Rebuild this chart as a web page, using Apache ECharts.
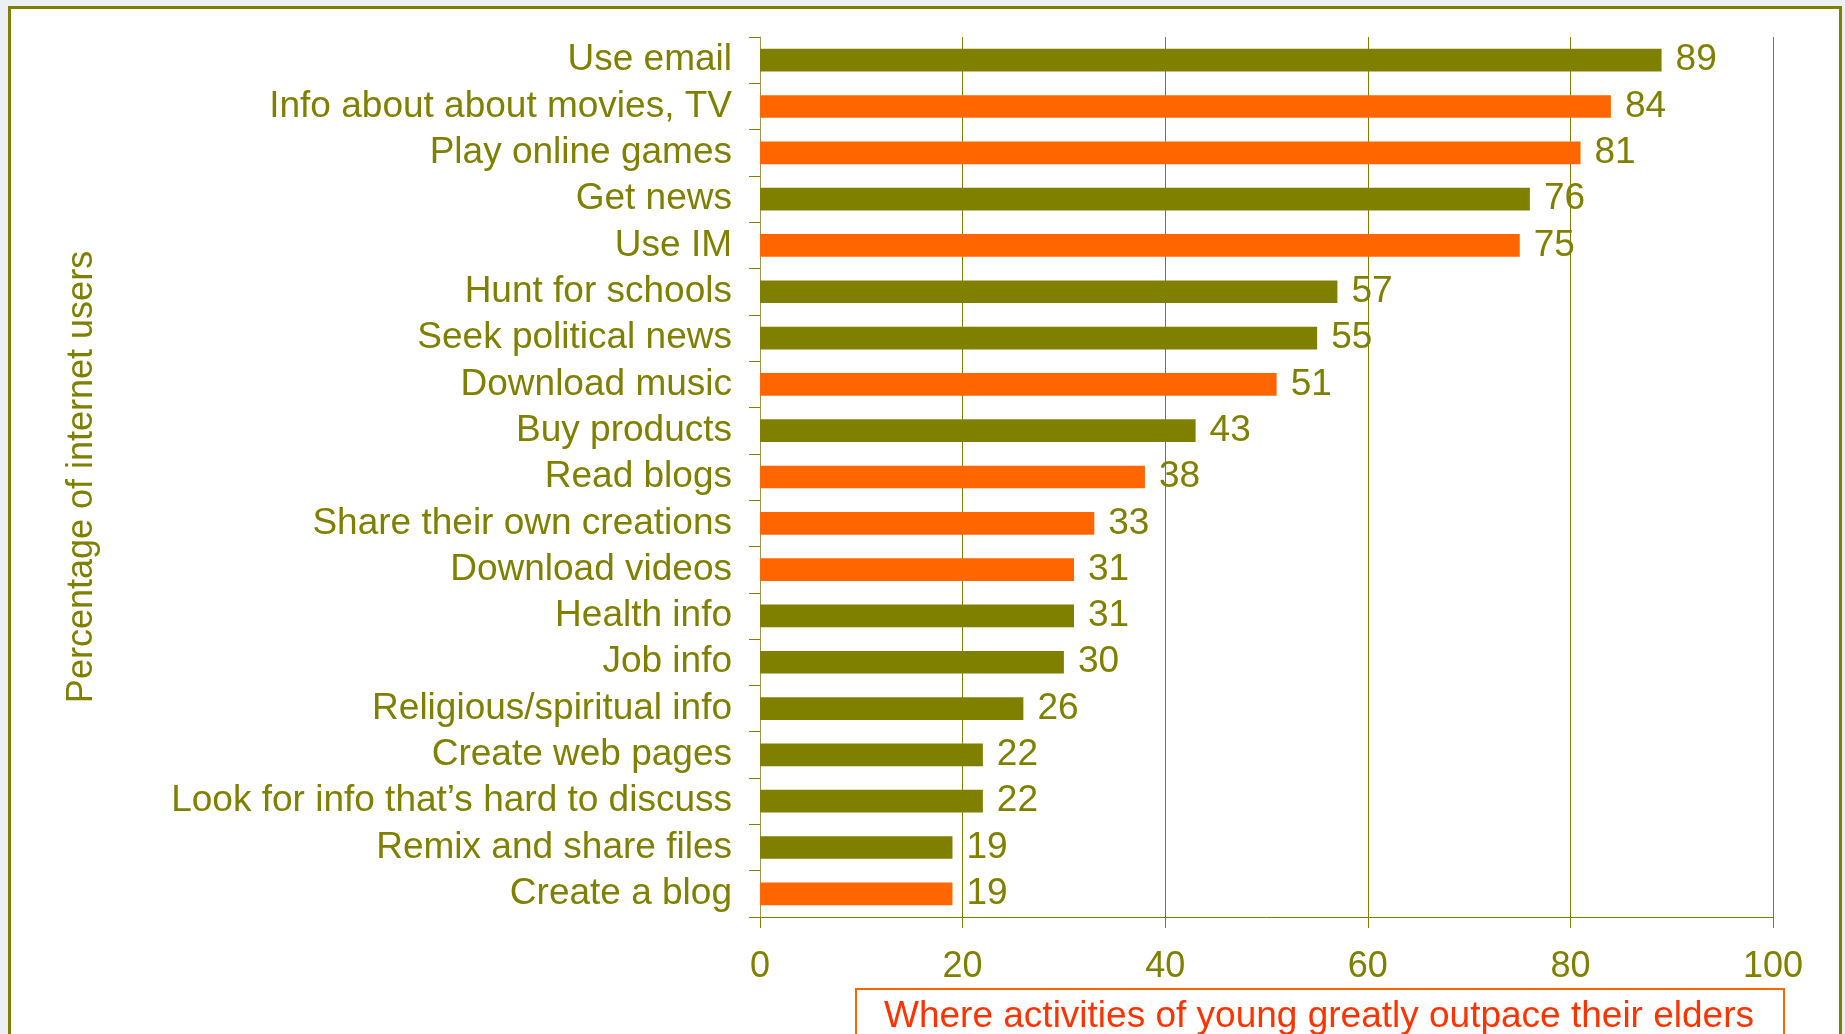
<!DOCTYPE html>
<html>
<head>
<meta charset="utf-8">
<script src="https://cdn.jsdelivr.net/npm/echarts@6/dist/echarts.min.js"></script>
<style>
  html, body { margin: 0; padding: 0; width: 1845px; height: 1034px; overflow: hidden; background: #eceff4; }
  #frame { position: absolute; left: 8px; top: 6px; width: 1828px; height: 1060px; background: #ffffff; border: 3px solid #808000; }
  #chart { position: absolute; left: 0; top: 0; width: 1845px; height: 1034px; }
</style>
</head>
<body>
<div id="frame"></div>
<div id="chart"></div>
<script>
const categories = [
  'Use email',
  'Info about about movies, TV',
  'Play online games',
  'Get news',
  'Use IM',
  'Hunt for schools',
  'Seek political news',
  'Download music',
  'Buy products',
  'Read blogs',
  'Share their own creations',
  'Download videos',
  'Health info',
  'Job info',
  'Religious/spiritual info',
  'Create web pages',
  'Look for info that\u2019s hard to discuss',
  'Remix and share files',
  'Create a blog'
];
const values = [89, 84, 81, 76, 75, 57, 55, 51, 43, 38, 33, 31, 31, 30, 26, 22, 22, 19, 19];
// true = activity where the young greatly outpace their elders (highlighted)
const youngOutpace = [false, true, true, false, true, false, false, true, false, true, true, true, false, false, false, false, false, false, true];
const xTicks = [0, 20, 40, 60, 80, 100];
const axisTitle = 'Percentage of internet users';
const noteText = 'Where activities of young greatly outpace their elders';

const OLIVE = '#808000';
const ORANGE = '#FF6600';
const FONT = '"Liberation Sans", Arial, sans-serif';

const chart = echarts.init(document.getElementById('chart'), null, { renderer: 'canvas' });
chart.setOption({
  backgroundColor: 'transparent',
  animation: false,
  grid: { left: 760, right: 72, top: 37, bottom: 117 },
  xAxis: {
    type: 'value',
    min: xTicks[0],
    max: xTicks[xTicks.length - 1],
    interval: 20,
    axisLine: { show: true, lineStyle: { color: OLIVE, width: 1 } },
    axisTick: { show: true, length: 11, lineStyle: { color: OLIVE, width: 1 } },
    splitLine: { show: true, lineStyle: { color: OLIVE, width: 1 } },
    axisLabel: { color: OLIVE, fontSize: 36, fontFamily: FONT, margin: 32 }
  },
  yAxis: {
    type: 'category',
    data: categories,
    inverse: true,
    name: axisTitle,
    nameLocation: 'middle',
    nameRotate: 90,
    nameGap: 660,
    nameTextStyle: { color: OLIVE, fontSize: 36, fontFamily: FONT },
    axisLine: { show: true, lineStyle: { color: '#9a9a4a', width: 1 } },
    axisTick: { show: true, length: 11, interval: 0, lineStyle: { color: OLIVE, width: 1 } },
    axisLabel: { color: OLIVE, fontSize: 37, fontFamily: FONT, margin: 28, interval: 0 },
    splitLine: { show: false }
  },
  series: [{
    type: 'bar',
    barWidth: '49%',
    data: values.map((v, i) => ({
      value: v,
      itemStyle: { color: youngOutpace[i] ? ORANGE : OLIVE }
    })),
    label: {
      show: true,
      position: 'right',
      distance: 14,
      color: OLIVE,
      fontSize: 37,
      fontFamily: FONT
    }
  }],
  graphic: [{
    type: 'group',
    left: 855,
    top: 988,
    children: [{
      type: 'rect',
      shape: { x: 0, y: 0, width: 928, height: 60 },
      style: { fill: '#ffffff', stroke: ORANGE, lineWidth: 2 }
    }, {
      type: 'text',
      x: 463,
      y: 28,
      style: {
        text: noteText,
        fill: '#FF3300',
        font: '37px ' + FONT,
        align: 'center',
        verticalAlign: 'middle'
      }
    }]
  }]
});
</script>
</body>
</html>
